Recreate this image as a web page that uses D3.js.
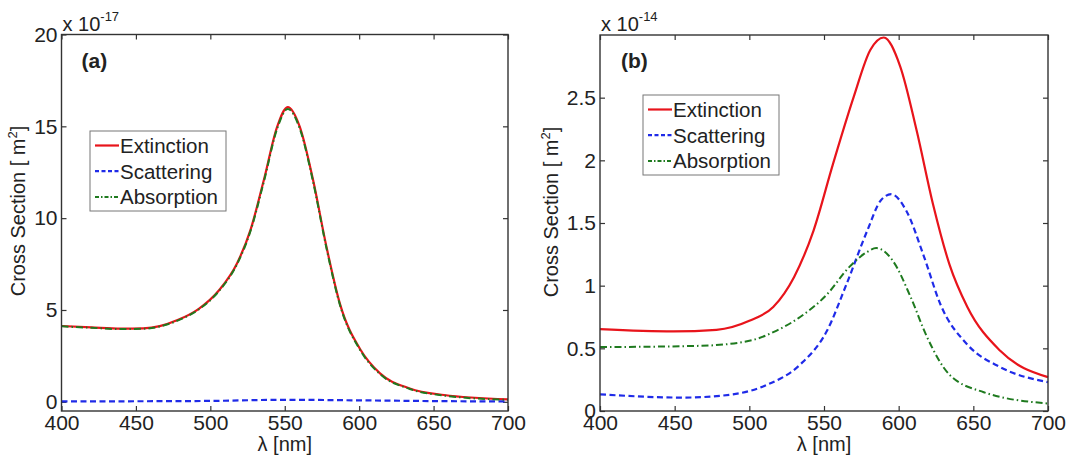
<!DOCTYPE html>
<html>
<head>
  <meta charset="utf-8">
  <title>Cross Section</title>
  <script src="https://cdn.jsdelivr.net/npm/d3@7"></script>
  <style>
    body { margin: 0; background: #fff; }
    text { font-family: Arial, "Liberation Sans", sans-serif; fill: #222; }
  </style>
</head>
<body>
  <svg width="1072" height="461" id="mainsvg"></svg>
  <script>
    // ---- data (cross sections in units of the axis exponent) ----
    const xTicks = [400, 450, 500, 550, 600, 650, 700];
    const seriesNames = ['Extinction', 'Scattering', 'Absorption'];

    // panel (a), x 10^-17 m^2
    const yTicksA = [0, 5, 10, 15, 20];
    const lambdaExtA = [400, 420, 440, 455, 466, 478, 492, 506, 518, 527, 536, 545, 552, 560, 569, 578, 587, 601, 614, 634, 657, 700];
    const extA = [4.13, 4.05, 3.98, 4.0, 4.12, 4.45, 5.05, 6.09, 7.55, 9.36, 12.09, 15.0, 16.05, 15.0, 12.09, 8.45, 5.36, 2.82, 1.55, 0.73, 0.37, 0.13];
    const lambdaScatA = [400, 450, 500, 550, 600, 650, 700];
    const scatA = [0.02, 0.03, 0.05, 0.11, 0.08, 0.04, 0.02];
    const lambdaAbsA = [400, 420, 440, 455, 466, 478, 492, 506, 518, 527, 536, 545, 552, 560, 569, 578, 587, 601, 614, 634, 657, 700];
    const absA = [4.11, 4.03, 3.96, 3.98, 4.1, 4.42, 5.02, 6.05, 7.5, 9.3, 12.0, 14.9, 15.95, 14.9, 12.0, 8.38, 5.3, 2.77, 1.51, 0.7, 0.34, 0.11];

    // panel (b), x 10^-14 m^2
    const yTicksB = [0, 0.5, 1, 1.5, 2, 2.5];
    const lambdaExtB = [400, 449, 478, 500, 516, 530, 543, 556, 570, 581, 590, 601, 612, 623, 634, 646, 668, 700];
    const extB = [0.653, 0.635, 0.648, 0.72, 0.83, 1.07, 1.44, 1.97, 2.51, 2.88, 2.98, 2.75, 2.24, 1.65, 1.17, 0.83, 0.48, 0.27];
    const lambdaScatB = [400, 456, 489, 512, 534, 552, 565, 579, 588, 595, 605, 617, 628, 646, 668, 700];
    const scatB = [0.133, 0.107, 0.133, 0.21, 0.37, 0.64, 1.01, 1.44, 1.68, 1.73, 1.6, 1.23, 0.85, 0.53, 0.35, 0.23];
    const lambdaAbsB = [400, 467, 500, 518, 534, 552, 567, 579, 585, 596, 608, 619, 634, 657, 700];
    const absB = [0.51, 0.52, 0.56, 0.64, 0.75, 0.93, 1.15, 1.27, 1.30, 1.2, 0.91, 0.59, 0.29, 0.15, 0.06];

    const zip = (xs, ys) => xs.map((x, i) => ({x: x, y: ys[i]}));

    const styles = {
        Extinction: {color: '#e8141b', dash: null, legendDash: null, width: 2.2},
        Scattering: {color: '#1f2be8', dash: '6,3.5', legendDash: '4,2.5', width: 2.2},
        Absorption: {color: '#1f7a1f', dash: '7,3,1.5,3', legendDash: '4,2,1.5,2', width: 2}
    };

    const svg = d3.select('svg');

    function drawPanel(p) {
        const x = d3.scaleLinear().domain([400, 700]).range([p.left, p.right]);
        const y = d3.scaleLinear().domain(p.yDomain).range([p.bottom, p.top]);
        const g = svg.append('g');

        // ticks on all four sides, pointing inward
        const axes = [
            [d3.axisBottom(x).tickValues(xTicks).tickFormat(d => d), `translate(0,${p.bottom})`],
            [d3.axisTop(x).tickValues(xTicks).tickFormat(''), `translate(0,${p.top})`],
            [d3.axisLeft(y).tickValues(p.yTicks).tickFormat(d => String(d)), `translate(${p.left},0)`],
            [d3.axisRight(y).tickValues(p.yTicks).tickFormat(''), `translate(${p.right},0)`]
        ];
        axes.forEach(([ax, tr]) => {
            const a = g.append('g').attr('transform', tr)
              .call(ax.tickSizeInner(-5).tickSizeOuter(0).tickPadding(4));
            a.select('.domain').remove();
            a.selectAll('line').attr('stroke', '#333').attr('stroke-width', 1.2);
            a.selectAll('text').attr('font-size', 21).attr('fill', '#222')
              .attr('font-family', 'Arial, "Liberation Sans", sans-serif');
        });

        // curves
        const line = d3.line().x(d => x(d.x)).y(d => y(d.y)).curve(d3.curveMonotoneX);
        p.series.forEach(s => {
            const st = styles[s.name];
            g.append('path')
              .datum(s.points)
              .attr('d', line)
              .attr('fill', 'none')
              .attr('stroke', st.color)
              .attr('stroke-width', st.width)
              .attr('stroke-dasharray', st.dash);
        });

        // box
        g.append('rect')
          .attr('x', p.left).attr('y', p.top)
          .attr('width', p.right - p.left).attr('height', p.bottom - p.top)
          .attr('fill', 'none').attr('stroke', '#333').attr('stroke-width', 1.4);

        // exponent label
        const ex = g.append('text').attr('x', p.left + 1).attr('y', 31).attr('font-size', 20);
        ex.append('tspan').text('x 10');
        ex.append('tspan').attr('dy', -10).attr('font-size', 13).text(p.exponent);

        // panel tag
        g.append('text').attr('x', p.left + p.tagDx).attr('y', 68)
          .attr('font-size', 21).attr('font-weight', 'bold').text(p.tag);

        // axis titles
        g.append('text')
          .attr('x', (p.left + p.right) / 2).attr('y', 451)
          .attr('text-anchor', 'middle').attr('font-size', 20)
          .text('\u03bb [nm]');
        const yl = g.append('text')
          .attr('transform', `translate(${p.yLabelX},${p.yLabelY}) rotate(-90)`)
          .attr('text-anchor', 'middle').attr('font-size', 20);
        yl.append('tspan').text('Cross Section [ m');
        yl.append('tspan').attr('dy', -8).attr('font-size', 13).text('2');
        yl.append('tspan').attr('dy', 8).text(']');

        // legend
        const lg = g.append('g').attr('transform', `translate(${p.legend[0]},${p.legend[1]})`);
        lg.append('rect').attr('width', 136).attr('height', 80)
          .attr('fill', '#fff').attr('stroke', '#777').attr('stroke-width', 1);
        seriesNames.forEach((n, i) => {
            const st = styles[n];
            const cy = 14.5 + i * 25.7;
            lg.append('line').attr('x1', 5).attr('x2', 29).attr('y1', cy).attr('y2', cy)
              .attr('stroke', st.color).attr('stroke-width', st.width)
              .attr('stroke-dasharray', st.legendDash);
            lg.append('text').attr('x', 30).attr('y', cy + 7.5).attr('font-size', 20.5).text(n);
        });
    }

    drawPanel({
        left: 61.5, right: 508, top: 34.5, bottom: 411,
        yDomain: [-0.5, 20], yTicks: yTicksA, exponent: '-17', tag: '(a)', tagDx: 20,
        yLabelX: 25, yLabelY: 211, legend: [90, 131],
        series: [
            {name: 'Extinction', points: zip(lambdaExtA, extA)},
            {name: 'Scattering', points: zip(lambdaScatA, scatA)},
            {name: 'Absorption', points: zip(lambdaAbsA, absA)}
        ]
    });

    drawPanel({
        left: 600, right: 1048, top: 35, bottom: 411,
        yDomain: [0, 3], yTicks: yTicksB, exponent: '-14', tag: '(b)', tagDx: 21,
        yLabelX: 558, yLabelY: 212, legend: [643, 95],
        series: [
            {name: 'Extinction', points: zip(lambdaExtB, extB)},
            {name: 'Scattering', points: zip(lambdaScatB, scatB)},
            {name: 'Absorption', points: zip(lambdaAbsB, absB)}
        ]
    });
  </script>
</body>
</html>
